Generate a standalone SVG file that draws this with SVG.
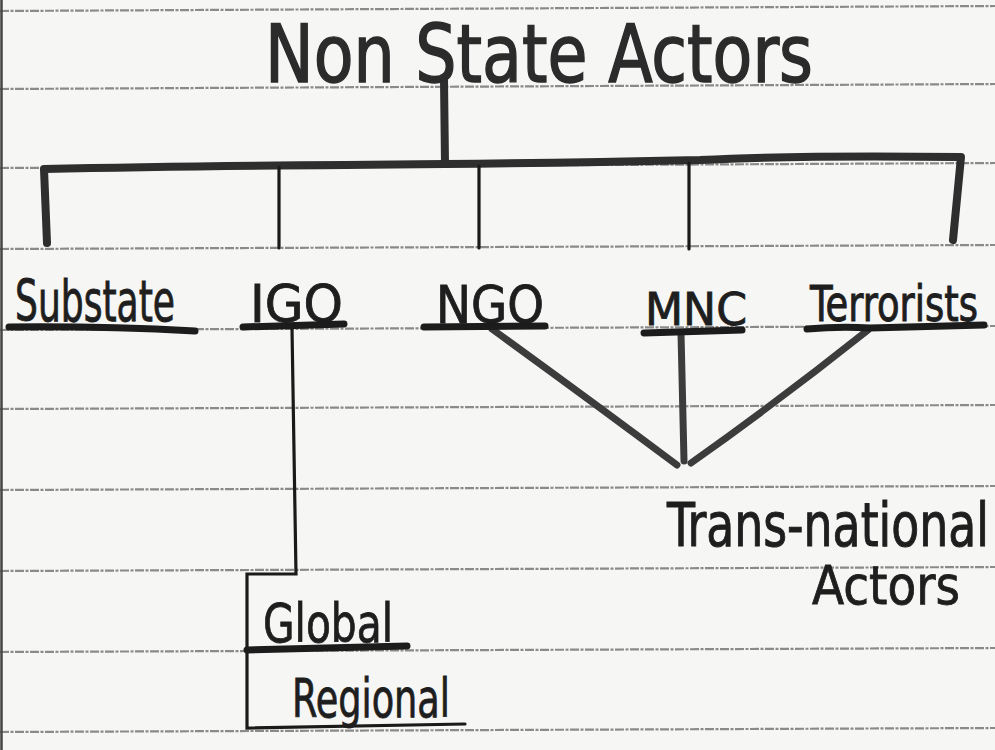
<svg xmlns="http://www.w3.org/2000/svg" width="995" height="750" viewBox="0 0 995 750">
  <defs>
    <style>
      .rule { stroke: #8a8a8a; stroke-width: 2.2; fill: none; stroke-dasharray: 9 1.5 3 1.5; }
      .hand { font-family: "DejaVu Sans Condensed", "DejaVu Sans", sans-serif; fill: #1e1e1e; stroke: #1e1e1e; stroke-width: 0.8; }
      .title { stroke-width: 1.4; fill: #2b2b2b; stroke: #2b2b2b; }
      .thick { stroke: #2e2e2e; stroke-width: 8; fill: none; stroke-linecap: round; stroke-linejoin: round; }
      .grayline { stroke: #3c3c3c; stroke-width: 7; fill: none; stroke-linecap: round; }
      .thin { stroke: #1a1a1a; stroke-width: 3.2; fill: none; stroke-linecap: round; }
      .under { stroke: #1c1c1c; stroke-width: 7; fill: none; stroke-linecap: round; }
    </style>
  </defs>

  <rect x="0" y="0" width="995" height="750" fill="#f6f6f4"/>

  <g id="paper-rules">
    <path class="rule" d="M0,11 L995,6"/>
    <path class="rule" d="M0,89 L995,84"/>
    <path class="rule" d="M0,168 L995,163"/>
    <path class="rule" d="M0,249 L995,245"/>
    <path class="rule" d="M0,330 L995,326"/>
    <path class="rule" d="M0,409 L995,405"/>
    <path class="rule" d="M0,490 L995,486"/>
    <path class="rule" d="M0,571 L995,567"/>
    <path class="rule" d="M0,652 L995,648"/>
    <path class="rule" d="M0,732 L995,728"/>
    <line x1="1.5" y1="0" x2="1.5" y2="750" stroke="#444" stroke-width="2.5"/>
  </g>

  <g id="connectors">
    <path class="thick" d="M444,80 L445,164"/>
    <path class="thick" d="M47,243 L44,169 Q200,166 445,164 Q560,163 700,160 Q800,155 961,157 L953,240"/>
    <path class="thin" d="M279,167 L279,248"/>
    <path class="thin" d="M479,166 L479,248"/>
    <path class="thin" d="M689,163 L689,249" stroke-width="4"/>
    <path class="thin" d="M292,328 L296,574 L247,574 L247,728 L465,724"/>
    <path class="under" d="M247,650 L407,646"/>
    <path class="grayline" d="M492,329 Q590,400 677,465"/>
    <path class="grayline" d="M681,333 L684,461"/>
    <path class="grayline" d="M868,330 Q780,400 691,463"/>
  </g>

  <g id="title">
    <text class="hand title" x="265" y="82" font-size="80" textLength="548" lengthAdjust="spacingAndGlyphs">Non State Actors</text>
  </g>

  <g id="substate">
    <text class="hand" transform="translate(15,321) scale(1,1.08)" font-size="52" textLength="160" lengthAdjust="spacingAndGlyphs">Substate</text>
    <path class="under" d="M9,327 Q100,326 195,331"/>
  </g>
  <g id="igo">
    <text class="hand" x="250" y="322" font-size="52" textLength="93" lengthAdjust="spacingAndGlyphs">IGO</text>
    <path class="under" d="M243,327 L344,324"/>
  </g>
  <g id="ngo">
    <text class="hand" x="436" y="323" font-size="52" textLength="108" lengthAdjust="spacingAndGlyphs">NGO</text>
    <path class="under" d="M424,327 L545,326"/>
  </g>
  <g id="mnc">
    <text class="hand" x="645" y="325" font-size="45" textLength="102" lengthAdjust="spacingAndGlyphs">MNC</text>
    <path class="under" d="M644,333 L742,330"/>
  </g>
  <g id="terrorists">
    <text class="hand" transform="translate(810,321) scale(1,1.2)" font-size="42" textLength="168" lengthAdjust="spacingAndGlyphs">Terrorists</text>
    <path class="under" d="M807,329 Q840,326 870,328 L984,325"/>
  </g>
  <g id="global">
    <text class="hand" x="263" y="642" font-size="54" textLength="130" lengthAdjust="spacingAndGlyphs">Global</text>
  </g>
  <g id="regional">
    <text class="hand" x="292" y="717" font-size="54" textLength="158" lengthAdjust="spacingAndGlyphs">Regional</text>
  </g>
  <g id="transnational">
    <text class="hand" transform="translate(667,546) scale(1,1.22)" font-size="50" stroke-width="1.6" textLength="322" lengthAdjust="spacingAndGlyphs">Trans-national</text>
    <text class="hand" x="812" y="604" font-size="54" stroke-width="1.6" textLength="148" lengthAdjust="spacingAndGlyphs">Actors</text>
  </g>
</svg>
